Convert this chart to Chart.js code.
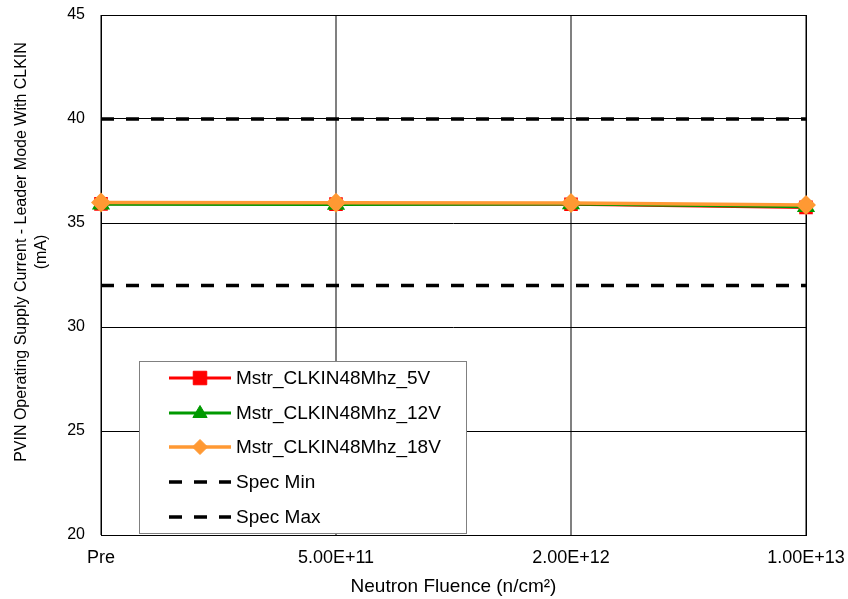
<!DOCTYPE html>
<html>
<head>
<meta charset="utf-8">
<script src="https://cdn.jsdelivr.net/npm/chart.js@4"></script>
<style>
  html, body { margin: 0; padding: 0; background: #ffffff; }
  #wrap { width: 848px; height: 599px; position: relative; }
</style>
</head>
<body>
<div id="wrap"><canvas id="c" width="848" height="599"></canvas></div>
<script>
// Neutron fluence steps
const categories = ['Pre', '5.00E+11', '2.00E+12', '1.00E+13'];

// PVIN operating supply current (mA), leader mode with CLKIN
const mstr5V  = [35.92, 35.91, 35.90, 35.75];
const mstr12V = [35.90, 35.89, 35.91, 35.78];
const mstr18V = [35.99, 35.97, 35.96, 35.87];

// Specification limits (mA)
const specMin = [32, 32, 32, 32];
const specMax = [40, 40, 40, 40];

const yTicks = [20, 25, 30, 35, 40, 45];
const yTitleLines = ['PVIN Operating Supply Current - Leader Mode With CLKIN', '(mA)'];

const FONT = '"Liberation Sans", Arial, sans-serif';

function drawMarker(ctx, style, x, y, r) {
  if (style === 'rect') {
    const s = r * 0.9;
    ctx.rect(x - s, y - s, 2 * s, 2 * s);
  } else if (style === 'triangle') {
    ctx.moveTo(x, y - r);
    ctx.lineTo(x + r * 0.95, y + r * 0.6);
    ctx.lineTo(x - r * 0.95, y + r * 0.6);
    ctx.closePath();
  } else if (style === 'rectRot') {
    ctx.moveTo(x, y - r);
    ctx.lineTo(x + r, y);
    ctx.lineTo(x, y + r);
    ctx.lineTo(x - r, y);
    ctx.closePath();
  }
}

// Legend drawn as a framed box inside the plot area
const boxLegend = {
  id: 'boxLegend',
  afterDraw(chart) {
    const ctx = chart.ctx;
    const x0 = 139, y0 = 361, w = 327, h = 172;
    ctx.save();
    ctx.fillStyle = '#ffffff';
    ctx.fillRect(x0, y0, w, h);
    ctx.strokeStyle = '#808080';
    ctx.lineWidth = 1;
    ctx.strokeRect(x0 + 0.5, y0 + 0.5, w, h);
    const rowH = 34.7;
    chart.data.datasets.forEach((ds, i) => {
      const cy = Math.round(y0 + 17 + i * rowH);
      const lx0 = x0 + 30, lx1 = x0 + 92, mx = x0 + 61;
      ctx.strokeStyle = ds.borderColor;
      ctx.lineWidth = ds.borderWidth;
      ctx.setLineDash(ds.borderDash || []);
      ctx.beginPath();
      ctx.moveTo(lx0, cy);
      ctx.lineTo(lx1, cy);
      ctx.stroke();
      ctx.setLineDash([]);
      if (ds.pointStyle && ds.pointRadius > 0) {
        ctx.fillStyle = ds.pointBackgroundColor;
        ctx.strokeStyle = ds.pointBorderColor;
        ctx.lineWidth = 1;
        ctx.beginPath();
        drawMarker(ctx, ds.pointStyle, mx, cy, ds.pointRadius);
        ctx.fill();
        ctx.stroke();
      }
      ctx.fillStyle = '#000000';
      ctx.font = '19px ' + FONT;
      ctx.textBaseline = 'middle';
      ctx.textAlign = 'left';
      ctx.fillText(ds.label, x0 + 97, cy + 1);
    });
    ctx.restore();
  }
};

// Rotated two-line title for the value axis
const yTitle = {
  id: 'yTitle',
  afterDraw(chart) {
    const ctx = chart.ctx;
    ctx.save();
    ctx.translate(0, 252);
    ctx.rotate(-Math.PI / 2);
    ctx.fillStyle = '#000000';
    ctx.font = '16px ' + FONT;
    ctx.textAlign = 'center';
    ctx.textBaseline = 'middle';
    yTitleLines.forEach((t, i) => ctx.fillText(t, 0, 22 + i * 20));
    ctx.restore();
  }
};

// Plot frame drawn over the grid
const frame = {
  id: 'frame',
  beforeDatasetsDraw(chart) {
    const a = chart.chartArea, ctx = chart.ctx;
    ctx.save();
    ctx.strokeStyle = '#000000';
    ctx.lineWidth = 1;
    ctx.strokeRect(Math.round(a.left) + 0.5, Math.round(a.top) + 0.5,
                   Math.round(a.right - a.left), Math.round(a.bottom - a.top));
    ctx.restore();
  }
};

new Chart(document.getElementById('c'), {
  type: 'line',
  data: {
    labels: categories,
    datasets: [
      {
        label: 'Mstr_CLKIN48Mhz_5V', data: mstr5V, order: 3,
        borderColor: '#ff0000', backgroundColor: '#ff0000',
        pointBackgroundColor: '#ff0000', pointBorderColor: '#ff0000',
        pointStyle: 'rect', pointRadius: 7.5, borderWidth: 3
      },
      {
        label: 'Mstr_CLKIN48Mhz_12V', data: mstr12V, order: 2,
        borderColor: '#009900', backgroundColor: '#009900',
        pointBackgroundColor: '#009900', pointBorderColor: '#009900',
        pointStyle: 'triangle', pointRadius: 7.5, borderWidth: 3
      },
      {
        label: 'Mstr_CLKIN48Mhz_18V', data: mstr18V, order: 1,
        borderColor: '#ff9933', backgroundColor: '#ff9933',
        pointBackgroundColor: '#ff9933', pointBorderColor: '#ff9933',
        pointStyle: 'rectRot', pointRadius: 7.5, borderWidth: 3.5
      },
      {
        label: 'Spec Min', data: specMin, order: 4,
        borderColor: '#000000', backgroundColor: '#000000',
        borderDash: [13, 12], pointRadius: 0, borderWidth: 3.5
      },
      {
        label: 'Spec Max', data: specMax, order: 5,
        borderColor: '#000000', backgroundColor: '#000000',
        borderDash: [13, 12], pointRadius: 0, borderWidth: 3.5
      }
    ]
  },
  options: {
    responsive: false,
    animation: false,
    layout: { padding: { top: 15, right: 42, bottom: 0, left: 0 } },
    plugins: {
      legend: { display: false },
      tooltip: { enabled: false },
      title: { display: false }
    },
    elements: { line: { tension: 0 } },
    scales: {
      x: {
        offset: false,
        grid: { color: '#808080', lineWidth: 2, drawTicks: false },
        border: { display: false },
        ticks: {
          color: '#000000', font: { family: FONT, size: 18 },
          padding: 12, maxRotation: 0, autoSkip: false
        },
        title: {
          display: true, text: 'Neutron Fluence (n/cm²)', color: '#000000',
          font: { family: FONT, size: 19 }, padding: { top: 6, bottom: 1 }
        },
        afterFit(s) {
          s.height = 64;
          s.paddingLeft = 0;
          s.paddingRight = 0;
        }
      },
      y: {
        min: 20, max: 45,
        grid: { color: '#000000', lineWidth: 1, drawTicks: false },
        border: { display: false },
        afterBuildTicks(s) { s.ticks = yTicks.map(v => ({ value: v })); },
        ticks: {
          color: '#000000', font: { family: FONT, size: 16 }, padding: 16
        },
        title: { display: false },
        afterFit(s) {
          s.width = 101;
          s.paddingTop = 0;
          s.paddingBottom = 0;
        }
      }
    }
  },
  plugins: [frame, boxLegend, yTitle]
});
</script>
</body>
</html>
